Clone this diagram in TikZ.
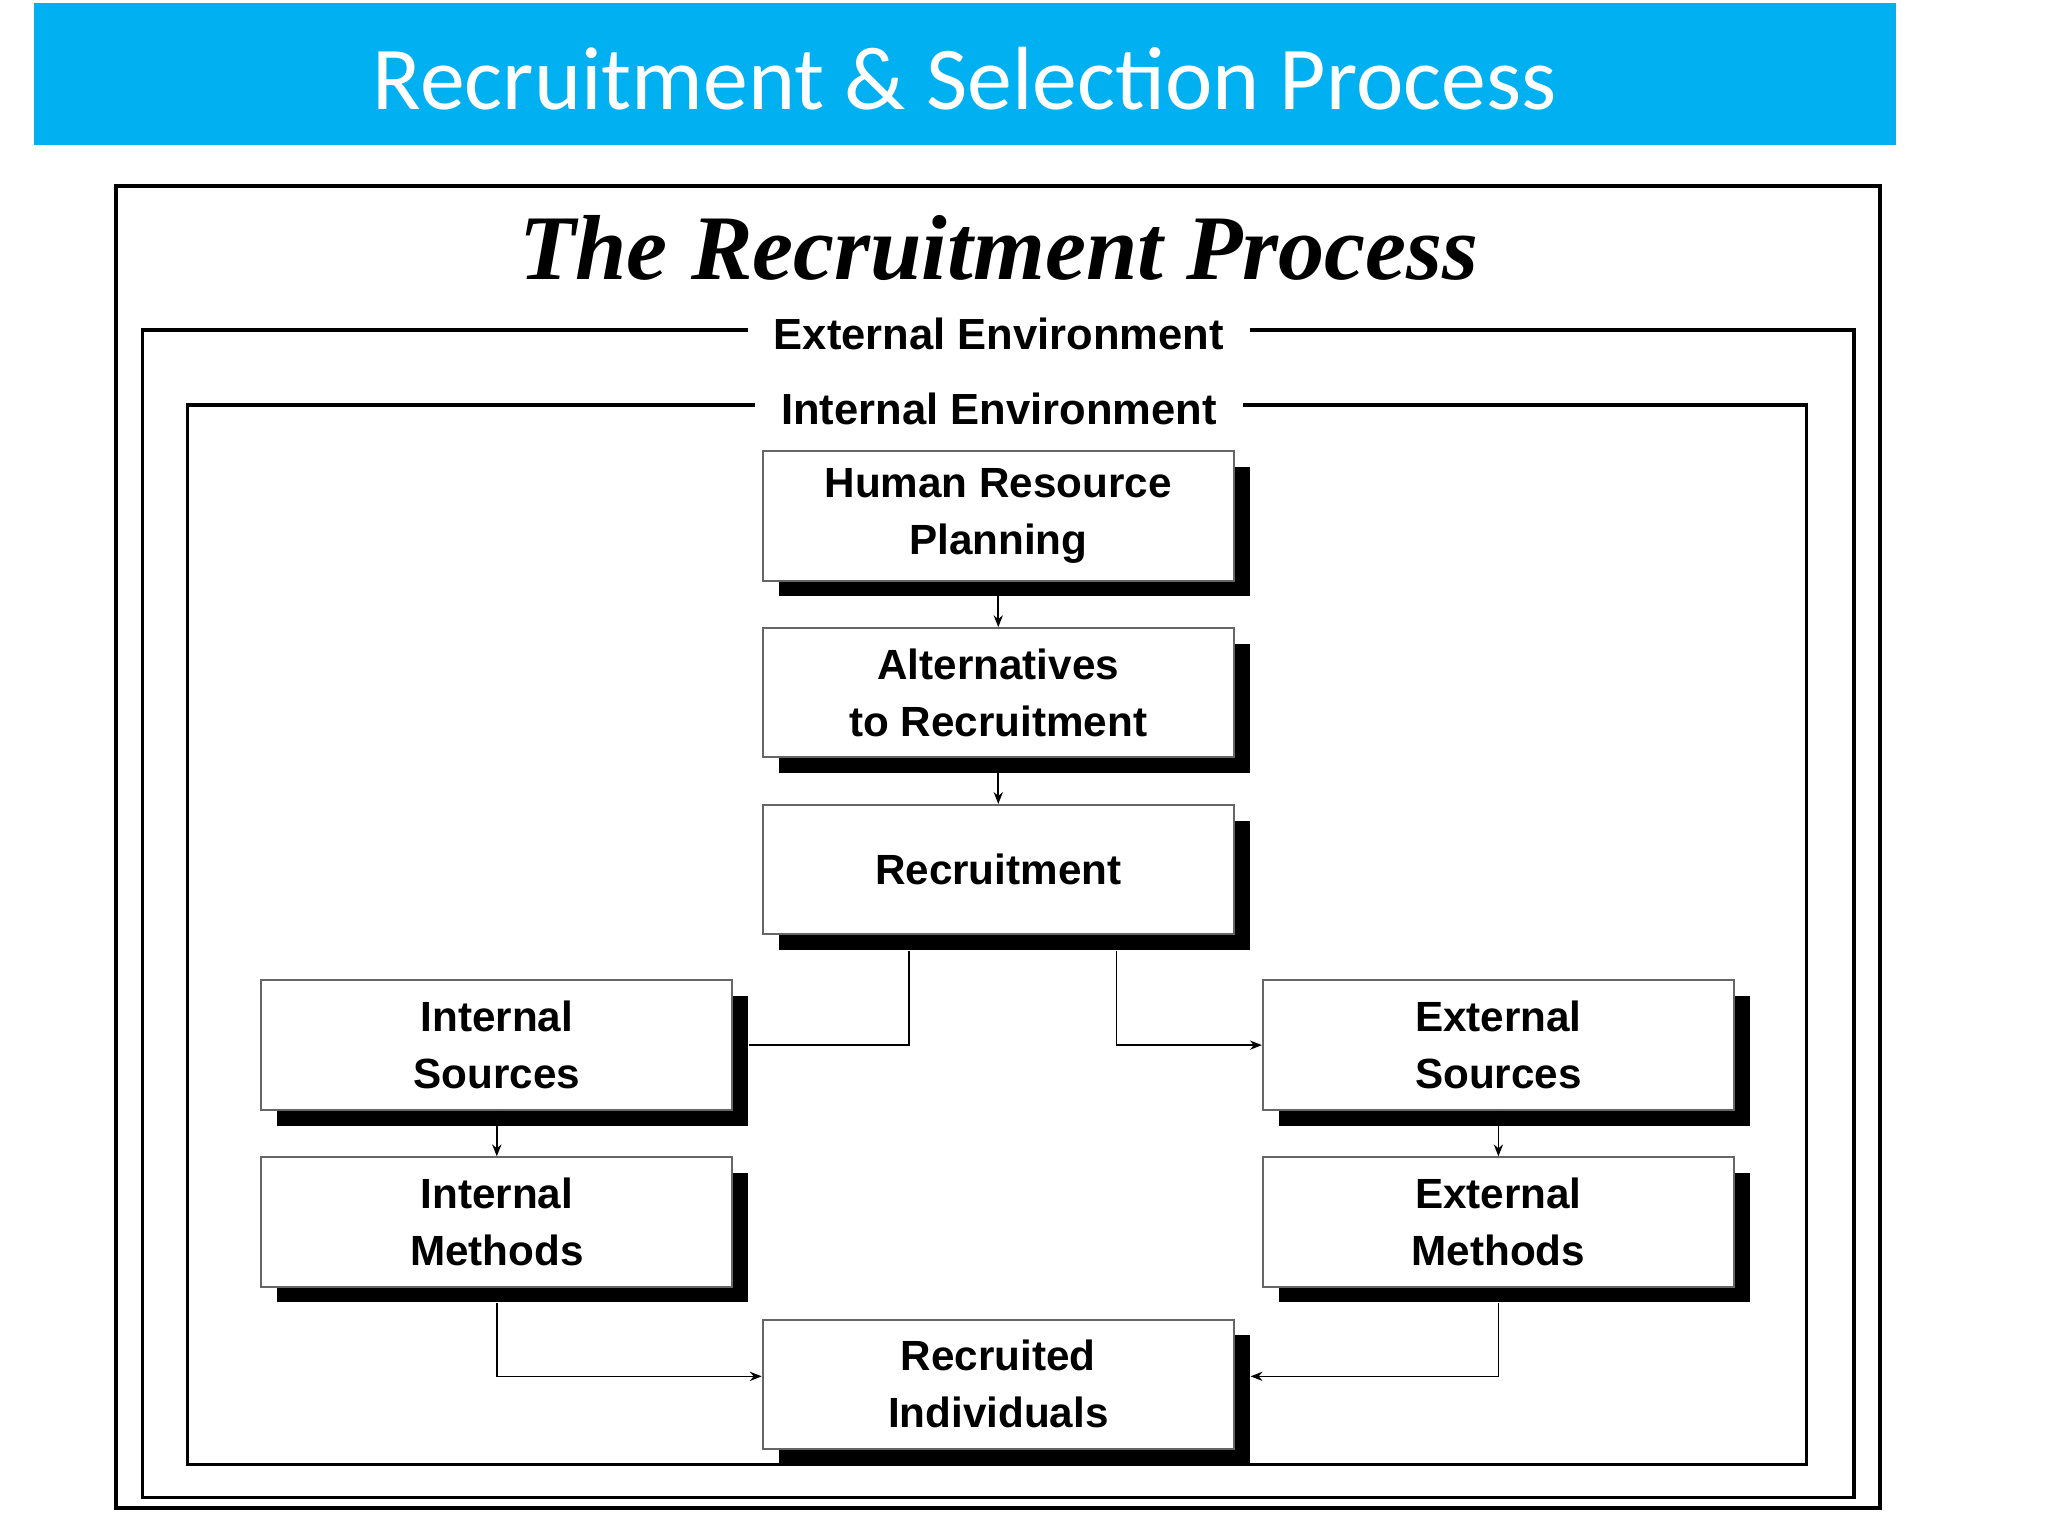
\documentclass[tikz,border=0pt]{standalone}
\usepackage{fontspec}
\setmainfont{Liberation Sans}
\newfontfamily\calib{Carlito}
\newfontfamily\tnr{Liberation Serif}
\usetikzlibrary{shadows,arrows.meta}
\definecolor{banner}{HTML}{00B0F0}
\tikzset{
  procbox/.style={draw=black!60, line width=1.5pt, fill=white, minimum width=357pt, minimum height=98pt,
    align=center, font=\fontsize{32}{43}\selectfont\bfseries,
    general shadow={fill=black, shadow xshift=12pt, shadow yshift=-12pt}},
  envlabel/.style={fill=white, inner xsep=20pt, font=\fontsize{33}{40}\selectfont\bfseries},
  arr/.style={line width=1.2pt, -{Stealth[length=9pt,width=7pt]}},
  link/.style={line width=1.2pt}
}
\begin{document}
\begin{tikzpicture}[x=1pt,y=-1pt]
\useasboundingbox (0,0) rectangle (1552,1164);
\fill[white] (0,0) rectangle (1552,1164);
\fill[banner] (26,2) rectangle (1437,110);
\node[text=white, font=\calib\fontsize{68}{80}\selectfont] (banner) at (731,60) {Recruitment \& Selection Process};
\draw[line width=3pt] (88,141) rectangle (1425,1143);
\node[font=\tnr\fontsize{70}{80}\selectfont\bfseries\itshape] (title) at (757,188) {The Recruitment Process};
\draw[line width=2.5pt] (108,250) rectangle (1405,1135);
\node[envlabel] (extenv) at (757,253) {External Environment};
\draw[line width=2.5pt] (142,307) rectangle (1369,1110);
\node[envlabel] (intenv) at (757,310) {Internal Environment};

\node[procbox] (hrp) at (756.5,391) {Human Resource\\Planning};
\node[procbox] (alt) at (756.5,525) {Alternatives\\to Recruitment};
\node[procbox] (rec) at (756.5,659) {Recruitment};
\node[procbox] (isrc) at (376.5,792) {Internal\\Sources};
\node[procbox] (imeth) at (376.5,926) {Internal\\Methods};
\node[procbox] (esrc) at (1135.5,792) {External\\Sources};
\node[procbox] (emeth) at (1135.5,926) {External\\Methods};
\node[procbox] (recind) at (756.5,1049) {Recruited\\Individuals};

\draw[arr] (hrp) -- (alt);
\draw[arr] (alt) -- (rec);
\draw[link] ([xshift=-67.5pt,yshift=-12pt]rec.south) |- ([xshift=12pt]isrc.east);
\draw[arr] ([xshift=89.5pt,yshift=-12pt]rec.south) |- (esrc.west);
\draw[arr] (isrc) -- (imeth);
\draw[arr] (esrc) -- (emeth);
\draw[arr] ([yshift=-12pt]imeth.south) |- ([yshift=6pt]recind.west);
\draw[arr] ([yshift=-12pt]emeth.south) |- ([xshift=12pt,yshift=6pt]recind.east);
\end{tikzpicture}
\end{document}
